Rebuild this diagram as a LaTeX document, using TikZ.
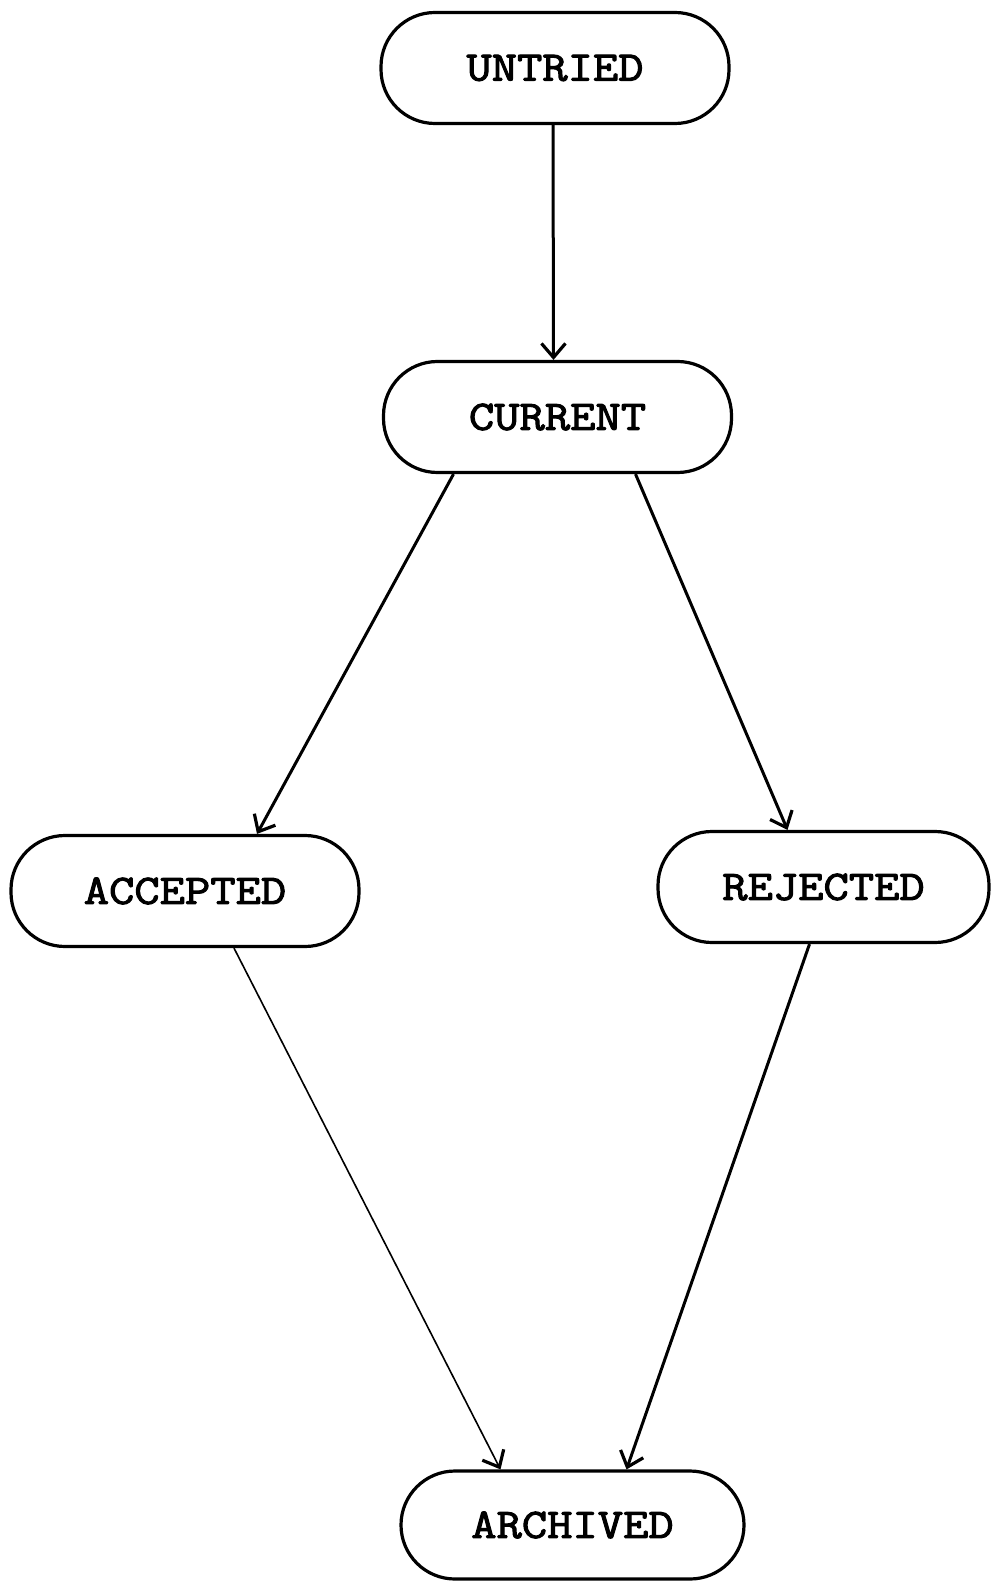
\documentclass[tikz,border=0pt]{standalone}
\usepackage{fontspec}
\newfontfamily\typewriter{Latin Modern Mono}[FakeBold=2.5,FakeStretch=1.17]
\usetikzlibrary{arrows.meta}
\begin{document}
\begin{tikzpicture}[x=0.5pt,y=-0.5pt,
  state/.style={draw, line width=1.6pt, rounded corners=27pt,
    minimum width=174pt, minimum height=55.5pt, inner sep=0pt,
    font=\typewriter\fontsize{21pt}{24pt}\selectfont},
  flow/.style={line width=1.5pt,
    -{Straight Barb[length=7pt,width=12pt,line width=1.6pt]}},
  thinflow/.style={line width=0.8pt,
    -{Straight Barb[length=7pt,width=12pt,line width=1.6pt]}}]
  \useasboundingbox (0,0) rectangle (991,1582);

  % states
  \node[state] (untried)  at (555,68)     {UNTRIED};
  \node[state] (current)  at (557.5,417)  {CURRENT};
  \node[state] (accepted) at (185,891)    {ACCEPTED};
  \node[state, minimum width=165.5pt] (rejected) at (823.5,887) {REJECTED};
  \node[state, minimum width=171.5pt, minimum height=54pt] (archived) at (572.5,1525) {ARCHIVED};

  % transitions
  \draw[flow] ([xshift=-1pt]untried.south) -- ([xshift=-2pt]current.north);
  \draw[flow] ([xshift=-52pt]current.south) -- ([xshift=36pt]accepted.north);
  \draw[flow] ([xshift=39pt]current.south) -- ([xshift=-18pt]rejected.north);
  \draw[thinflow] ([xshift=24.5pt]accepted.south) -- ([xshift=-36pt]archived.north);
  \draw[flow] ([xshift=-7pt]rejected.south) -- ([xshift=27pt]archived.north);
\end{tikzpicture}
\end{document}
